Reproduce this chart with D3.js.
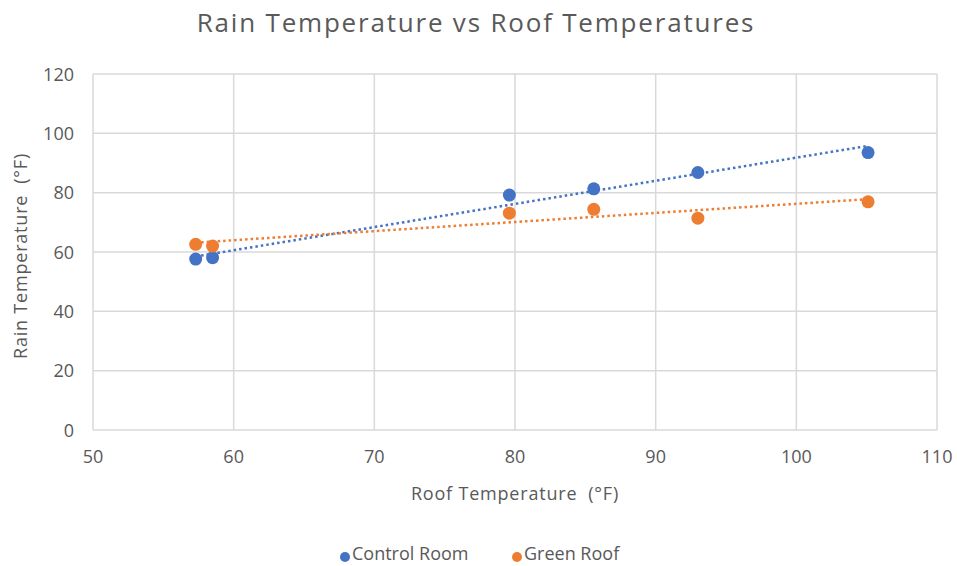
<!doctype html>
<html lang="en">
<head>
<meta charset="utf-8" />
<title>Rain Temperature vs Roof Temperatures</title>
<script src="https://cdn.jsdelivr.net/npm/d3@7"></script>
<style>
  body { margin: 0; background: #fff; }
  text { font-family: "Open Sans", Lato, sans-serif; fill: #595959; white-space: pre; }
</style>
</head>
<body>
<script>
// data
var seriesNames = ["Control Room", "Green Roof"];
var seriesColors = ["#4472C4", "#ED7D31"];
var controlX = [57.3, 58.5, 79.6, 85.6, 93.0, 105.1];
var controlY = [57.6, 58.1, 79.2, 81.3, 86.8, 93.5];
var greenX = [57.3, 58.5, 79.6, 85.6, 93.0, 105.1];
var greenY = [62.6, 62.0, 73.1, 74.4, 71.4, 76.9];
var xTicks = [50, 60, 70, 80, 90, 100, 110];
var yTicks = [0, 20, 40, 60, 80, 100, 120];

var w = 957, h = 566;
var m = {left: 93, right: 20, top: 74, bottom: 136};

var svg = d3.select("body").append("svg")
  .attr("width", w).attr("height", h);

var x = d3.scaleLinear().domain([50, 110]).range([m.left, w - m.right]);
var y = d3.scaleLinear().domain([0, 120]).range([h - m.bottom, m.top]);

// gridlines
svg.append("g").selectAll("line").data(yTicks).enter().append("line")
  .attr("x1", x(50)).attr("x2", x(110))
  .attr("y1", function(d) { return y(d); }).attr("y2", function(d) { return y(d); })
  .attr("stroke", "#d9d9d9").attr("stroke-width", 1.5);
svg.append("g").selectAll("line").data(xTicks).enter().append("line")
  .attr("y1", y(0)).attr("y2", y(120))
  .attr("x1", function(d) { return x(d); }).attr("x2", function(d) { return x(d); })
  .attr("stroke", "#d9d9d9").attr("stroke-width", 1.5);

// tick labels
svg.append("g").selectAll("text").data(yTicks).enter().append("text")
  .attr("x", m.left - 19).attr("y", function(d) { return y(d) + 6.5; })
  .attr("text-anchor", "end").attr("font-size", "18px")
  .text(function(d) { return d; });
svg.append("g").selectAll("text").data(xTicks).enter().append("text")
  .attr("x", function(d) { return x(d); }).attr("y", y(0) + 33)
  .attr("text-anchor", "middle").attr("font-size", "18px")
  .text(function(d) { return d; });

// titles
svg.append("text").attr("x", 476).attr("y", 32).attr("text-anchor", "middle")
  .attr("font-size", "26px").attr("letter-spacing", "1.8px")
  .text("Rain Temperature vs Roof Temperatures");
svg.append("text").attr("x", 515).attr("y", 500).attr("text-anchor", "middle")
  .attr("font-size", "18px").attr("letter-spacing", "0.8px")
  .text("Roof Temperature  (°F)");
svg.append("text").attr("transform", "translate(27,256) rotate(-90)")
  .attr("text-anchor", "middle").attr("font-size", "18px").attr("letter-spacing", "0.8px")
  .text("Rain Temperature  (°F)");

// linear trendline from least squares
function fit(xs, ys) {
  var mx = d3.mean(xs), my = d3.mean(ys);
  var sxy = d3.sum(xs, function(v, i) { return (v - mx) * (ys[i] - my); });
  var sxx = d3.sum(xs, function(v) { return (v - mx) * (v - mx); });
  var b = sxy / sxx;
  return function(v) { return my + b * (v - mx); };
}

var series = [
  {xs: controlX, ys: controlY},
  {xs: greenX, ys: greenY}
];

series.forEach(function(s, k) {
  var f = fit(s.xs, s.ys);
  var x0 = d3.min(s.xs), x1 = d3.max(s.xs);
  svg.append("line")
    .attr("x1", x(x0)).attr("y1", y(f(x0)))
    .attr("x2", x(x1)).attr("y2", y(f(x1)))
    .attr("stroke", seriesColors[k]).attr("stroke-width", 2.5)
    .attr("stroke-dasharray", "2.5,3");
});

series.forEach(function(s, k) {
  svg.append("g").selectAll("circle").data(s.xs).enter().append("circle")
    .attr("cx", function(d) { return x(d); })
    .attr("cy", function(d, i) { return y(s.ys[i]); })
    .attr("r", 6.5)
    .attr("fill", seriesColors[k]);
});

// legend
var legendX = [345, 517];
seriesNames.forEach(function(name, k) {
  svg.append("circle").attr("cx", legendX[k]).attr("cy", 557).attr("r", 5)
    .attr("fill", seriesColors[k]);
  svg.append("text").attr("x", legendX[k] + 7).attr("y", 560)
    .attr("font-size", "18px").text(name);
});
</script>
</body>
</html>
